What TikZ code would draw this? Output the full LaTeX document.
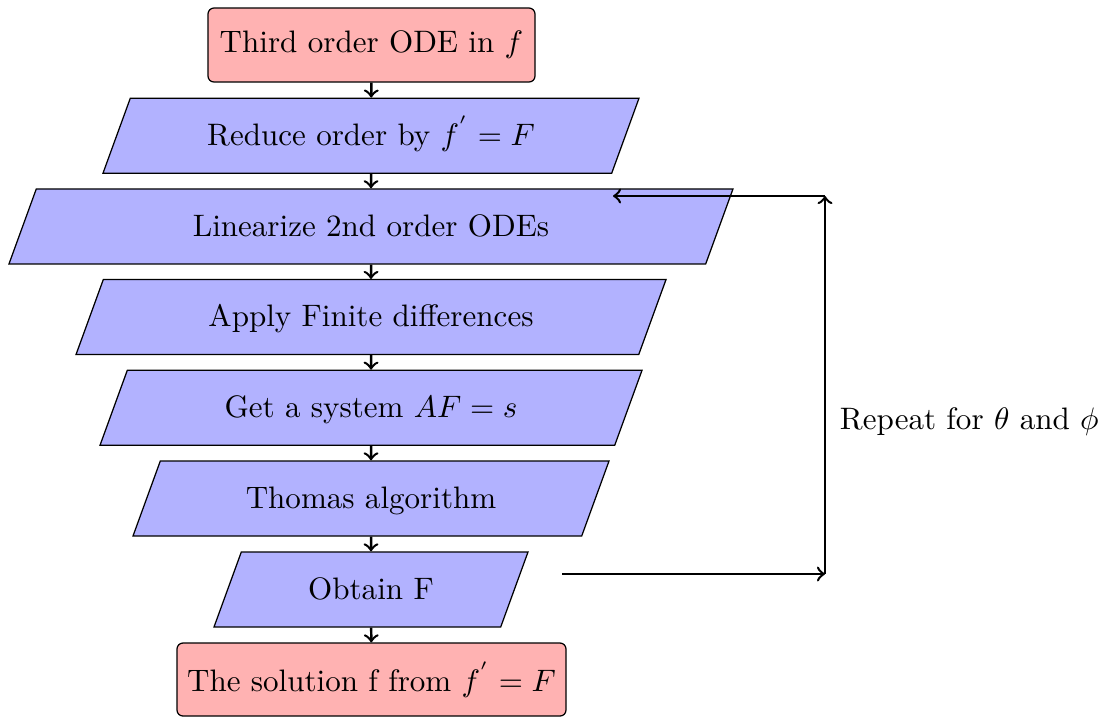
\documentclass[tikz,border=0pt]{standalone}
\usetikzlibrary{shapes.geometric}
\newcommand\pxu{0.322pt}
\begin{document}
\begin{tikzpicture}[x=0.322pt,y=-0.322pt,
  startstop/.style={rectangle, rounded corners=6*\pxu, draw=black, fill=red!30, text centered, inner sep=0pt},
  iobox/.style={trapezium, trapezium left angle=70, trapezium right angle=110, trapezium stretches body=true, draw=black, fill=blue!30, text centered, inner xsep=0pt, text height=7.6pt, text depth=1.4pt, inner ysep=75*\pxu/2-4.5pt},
  flow/.style={thick,->},
  loopline/.style={thick,->}]
\useasboundingbox (0,0) rectangle (1106,717);
\node[startstop, minimum width=327*\pxu, minimum height=74*\pxu] (start) at (371.5,45) {Third order ODE in $f$};
\node[iobox, minimum width=536*\pxu] (reduce) at (371,135.7) {Reduce order by $f^{'}=F$};
\node[iobox, minimum width=724*\pxu] (lin) at (371,226.4) {Linearize 2nd order ODEs};
\node[iobox, minimum width=590*\pxu] (fd) at (371,317.1) {Apply Finite differences};
\node[iobox, minimum width=542*\pxu] (sys) at (371,407.8) {Get a system $AF=s$};
\node[iobox, minimum width=476*\pxu] (thomas) at (371,498.5) {Thomas algorithm};
\node[iobox, minimum width=314*\pxu] (obtain) at (371,589.5) {Obtain F};
\node[startstop, minimum width=389*\pxu, minimum height=73*\pxu] (sol) at (371.5,679.5) {The solution f from $f^{'}=F$};
\draw[flow] (start) -- (reduce);
\draw[flow] (reduce) -- (lin);
\draw[flow] (lin) -- (fd);
\draw[flow] (fd) -- (sys);
\draw[flow] (sys) -- (thomas);
\draw[flow] (thomas) -- (obtain);
\draw[flow] (obtain) -- (sol);
\coordinate (a) at (562,574);
\coordinate (b) at (825,574);
\coordinate (c) at (825,196);
\coordinate (d) at (613,196);
\draw[loopline] (a) -- (b);
\draw[loopline] (b) -- (c);
\draw[loopline] (c) -- (d);
\node[anchor=west] (rep) at (829,422) {Repeat for $\theta$ and $\phi$};
\end{tikzpicture}
\end{document}
